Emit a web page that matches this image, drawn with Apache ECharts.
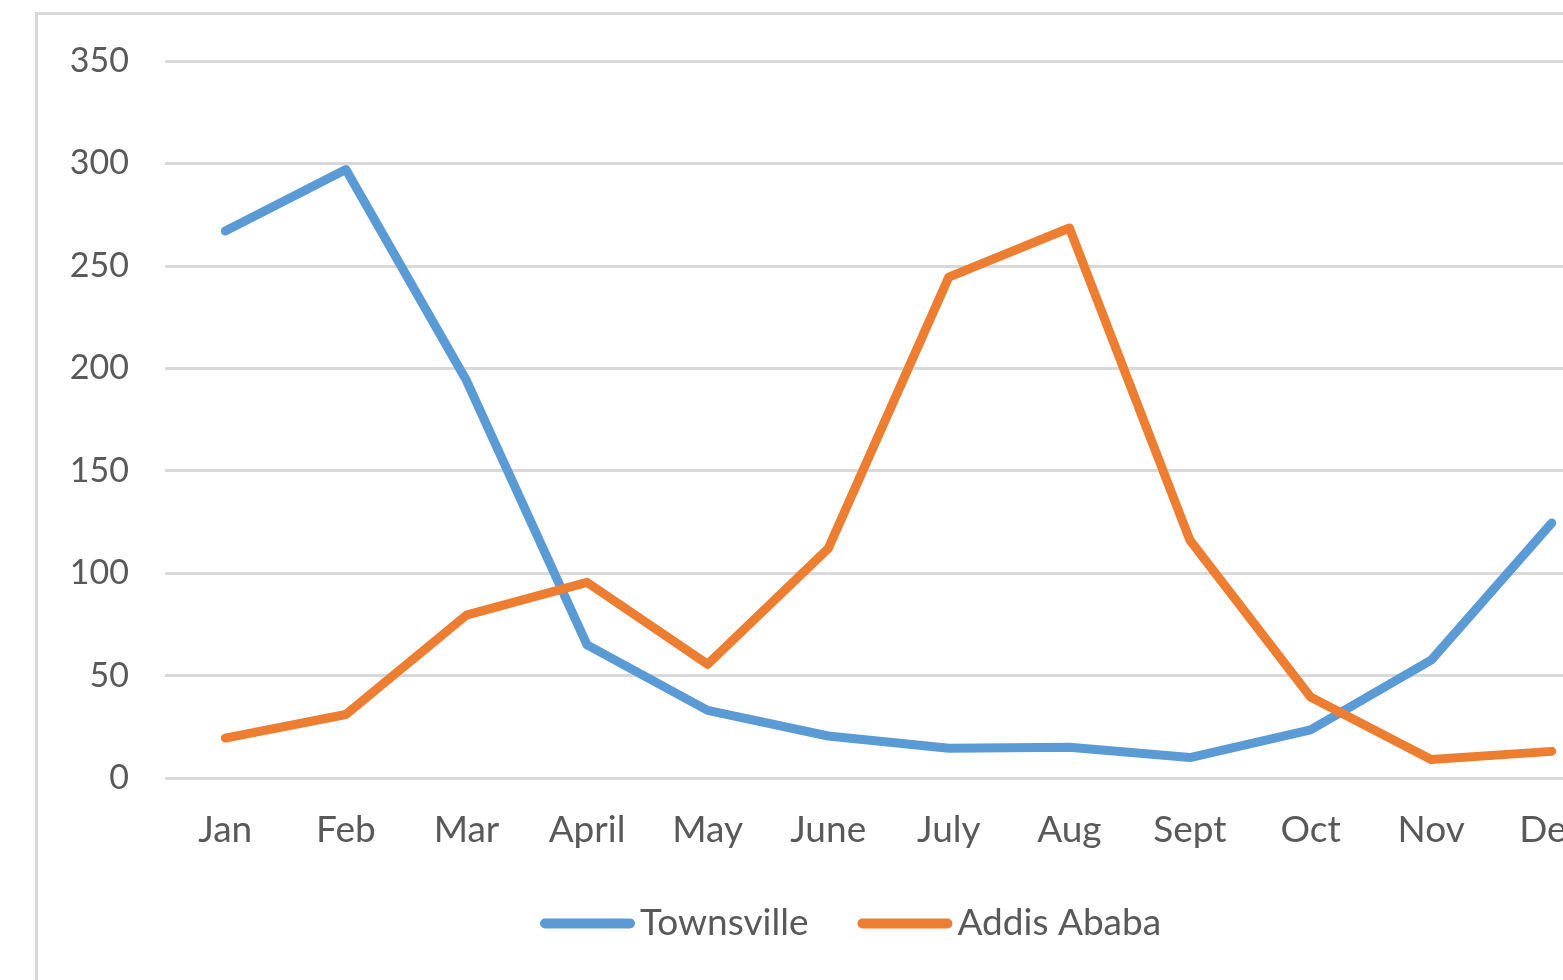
<!DOCTYPE html>
<html>
<head>
<meta charset="utf-8">
<script src="https://cdn.jsdelivr.net/npm/echarts@6/dist/echarts.min.js"></script>
<style>html,body{margin:0;padding:0;background:#fff;overflow:hidden;width:1563px;height:980px;}#c{width:1700px;height:980px;}</style>
</head>
<body>
<div id="c"></div>
<script>
const months = ['Jan','Feb','Mar','April','May','June','July','Aug','Sept','Oct','Nov','Dec'];
const townsville = [267, 297, 194, 65, 33, 20.5, 14.5, 15, 10, 23.5, 57.5, 124.5];
const addisAbaba = [19.5, 31, 79.5, 95.5, 55.5, 112, 244.5, 268.5, 116, 39.5, 9, 13];
const yTicks = {min: 0, max: 350, interval: 50};

const FONT = 'Lato';
const TXT = '#595959';
const chart = echarts.init(document.getElementById('c'), null, {renderer: 'canvas'});
const legendIcon = 'path://M5,0 L90,0 A5,5 0 0 1 90,10 L5,10 A5,5 0 0 1 5,0 Z';
chart.setOption({
  animation: false,
  backgroundColor: '#ffffff',
  graphic: [{
    type: 'rect', left: 35, top: 12, z: -10,
    shape: {x: 0, y: 0, width: 1700, height: 1100},
    style: {fill: '#ffffff', stroke: '#d9d9d9', lineWidth: 3}
  }],
  grid: {left: 165, top: 61, right: 88, bottom: 202, containLabel: false},
  legend: {
    left: 535, top: 900,
    itemWidth: 95, itemHeight: 10, itemGap: 49,
    textStyle: {fontFamily: FONT, fontSize: 37, color: TXT},
    data: [{name: 'Townsville', icon: legendIcon}, {name: 'Addis Ababa', icon: legendIcon}]
  },
  xAxis: {
    type: 'category', data: months, boundaryGap: true,
    axisLine: {show: false}, axisTick: {show: false},
    axisLabel: {fontFamily: FONT, fontSize: 37, color: TXT, margin: 34, interval: 0}
  },
  yAxis: {
    type: 'value', min: yTicks.min, max: yTicks.max, interval: yTicks.interval,
    axisLine: {show: false}, axisTick: {show: false},
    axisLabel: {fontFamily: FONT, fontSize: 34, color: TXT, margin: 36},
    splitLine: {lineStyle: {color: '#d9d9d9', width: 3}}
  },
  series: [
    {name: 'Townsville', type: 'line', data: townsville, showSymbol: false, color: '#5b9bd5',
     lineStyle: {width: 9, color: '#5b9bd5', cap: 'round', join: 'round'}},
    {name: 'Addis Ababa', type: 'line', data: addisAbaba, showSymbol: false, color: '#ed7d31',
     lineStyle: {width: 9, color: '#ed7d31', cap: 'round', join: 'round'}}
  ]
});
</script>
</body>
</html>
